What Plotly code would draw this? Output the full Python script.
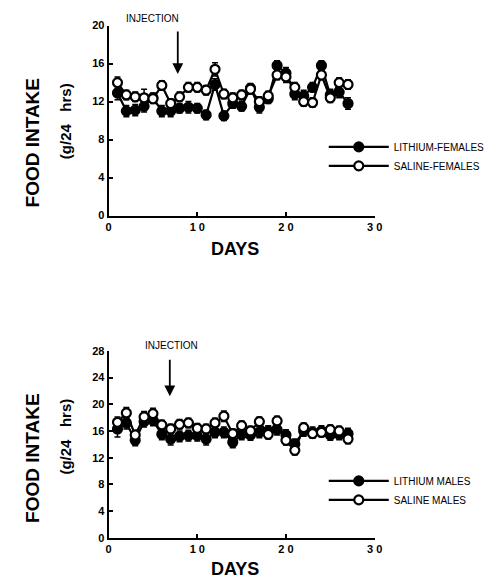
import plotly.graph_objects as go

days = list(range(1, 28))

# Top panel: females (g/24 hrs)
lithium_females = [12.9, 11.0, 11.1, 11.5, 12.4, 11.0, 11.0, 11.3, 11.4, 11.3, 10.6, 13.8, 10.5, 11.8,
                   11.5, 13.4, 11.4, 12.3, 15.8, 15.0, 12.8, 12.6, 13.5, 15.8, 12.7, 13.0, 11.8]
lithium_females_err = [0.7, 0.6, 0.6, 0.6, 0.5, 0.6, 0.6, 0.5, 0.6, 0.5, 0.5, 0.6, 0.5, 0.5,
                       0.5, 0.5, 0.6, 0.5, 0.5, 0.6, 0.6, 0.6, 0.5, 0.5, 0.6, 0.6, 0.6]
saline_females = [14.0, 12.7, 12.5, 12.4, 12.3, 13.7, 11.8, 12.5, 13.5, 13.5, 13.2, 15.4, 12.8, 12.4,
                  12.7, 13.3, 12.0, 12.6, 14.8, 14.6, 13.5, 12.0, 11.9, 14.8, 12.4, 14.0, 13.8]
saline_females_err = [0.6, 0.5, 0.5, 0.9, 0.5, 0.5, 0.5, 0.5, 0.5, 0.5, 0.5, 0.7, 0.5, 0.5,
                      0.5, 0.5, 0.5, 0.5, 0.5, 0.6, 0.5, 0.5, 0.5, 0.5, 0.5, 0.5, 0.5]

# Bottom panel: males (g/24 hrs)
lithium_males = [16.3, 17.2, 14.6, 17.4, 17.6, 15.5, 14.8, 15.2, 15.3, 15.3, 14.8, 15.8, 15.8, 14.3,
                 15.5, 15.4, 15.8, 16.0, 16.2, 15.4, 14.0, 16.0, 15.8, 16.0, 15.4, 15.5, 15.6]
lithium_males_err = [1.2, 0.9, 0.8, 0.8, 0.8, 0.8, 0.9, 0.8, 0.8, 0.8, 0.9, 0.8, 0.8, 0.8,
                     0.8, 0.8, 0.8, 0.8, 0.8, 0.8, 0.8, 0.8, 0.8, 0.8, 0.8, 0.8, 0.8]
saline_males = [17.3, 18.7, 15.4, 18.1, 18.6, 16.9, 16.3, 17.0, 17.2, 16.4, 16.3, 17.2, 18.2, 15.6,
                16.8, 16.0, 17.4, 15.5, 17.5, 14.6, 13.1, 16.5, 15.6, 15.8, 16.2, 16.0, 14.8]
saline_males_err = [0.8, 0.8, 0.7, 0.8, 0.8, 0.7, 0.7, 0.7, 0.7, 0.7, 0.7, 0.7, 0.8, 0.7,
                    0.7, 0.7, 0.7, 0.7, 0.7, 0.7, 0.7, 0.7, 0.7, 0.7, 0.7, 0.7, 0.7]

x_ticks = [0, 10, 20, 30]
x_ticktext = ["0", "1 0", "2 0", "3 0"]
top_yticks = [0, 4, 8, 12, 16, 20]
bottom_yticks = [0, 4, 8, 12, 16, 20, 24, 28]

FONT = "Liberation Sans, Arial, Helvetica, sans-serif"

fig = go.Figure()


def add_series(y, err, name, filled, xa, ya, legend):
    fig.add_trace(go.Scatter(
        x=days, y=y, name=name, xaxis=xa, yaxis=ya, legend=legend,
        mode="lines+markers",
        line=dict(color="black", width=2.2),
        marker=dict(symbol="circle", size=9,
                    color="black" if filled else "white",
                    line=dict(color="black", width=2.2)),
        error_y=dict(type="data", array=err, visible=True, color="black",
                     thickness=1.5, width=3),
    ))


add_series(lithium_females, lithium_females_err, "LITHIUM-FEMALES", True, "x", "y", "legend")
add_series(saline_females, saline_females_err, "SALINE-FEMALES", False, "x", "y", "legend")
add_series(lithium_males, lithium_males_err, "LITHIUM MALES", True, "x2", "y2", "legend2")
add_series(saline_males, saline_males_err, "SALINE MALES", False, "x2", "y2", "legend2")

W, H = 499, 586
xdom = [108 / W, 380 / W]
top_dom = [(H - 214) / H, (H - 20) / H]
bot_dom = [(H - 543) / H, (H - 352) / H]

axis_common = dict(showgrid=False, zeroline=False, showline=True, linecolor="black",
                   linewidth=2, ticks="inside", tickcolor="black", ticklen=4, tickwidth=1.5,
                   tickfont=dict(family=FONT, size=11, color="black", weight="bold"))

fig.update_layout(
    width=W, height=H,
    margin=dict(l=0, r=0, t=0, b=0),
    paper_bgcolor="white", plot_bgcolor="white",
    font=dict(family=FONT, color="black"),
    xaxis=dict(domain=xdom, anchor="y", range=[0, 30], tickvals=x_ticks, ticktext=x_ticktext, **axis_common),
    yaxis=dict(domain=top_dom, anchor="x", range=[0, 20], tickvals=top_yticks, **axis_common),
    xaxis2=dict(domain=xdom, anchor="y2", range=[0, 30], tickvals=x_ticks, ticktext=x_ticktext, **axis_common),
    yaxis2=dict(domain=bot_dom, anchor="x2", range=[0, 28], tickvals=bottom_yticks, **axis_common),
    legend=dict(x=328 / W, y=(H - 129) / H, xanchor="left", yanchor="top",
                font=dict(family=FONT, size=10, color="black"), itemwidth=60,
                bgcolor="rgba(0,0,0,0)", tracegroupgap=0),
    legend2=dict(x=328 / W, y=(H - 470) / H, xanchor="left", yanchor="top",
                 font=dict(family=FONT, size=10, color="black"), itemwidth=60,
                 bgcolor="rgba(0,0,0,0)", tracegroupgap=0),
    showlegend=True,
)

annotations = [
    # injection markers
    dict(x=7.8, y=14.9, xref="x", yref="y", ax=0, ay=-44, text="", showarrow=True,
         arrowhead=2, arrowsize=1.2, arrowwidth=1.8, arrowcolor="black"),
    dict(x=153 / W, y=(H - 13) / H, xref="paper", yref="paper", text="INJECTION",
         showarrow=False, font=dict(family=FONT, size=10, color="black")),
    dict(x=6.9, y=21.2, xref="x2", yref="y2", ax=0, ay=-38, text="", showarrow=True,
         arrowhead=2, arrowsize=1.2, arrowwidth=1.8, arrowcolor="black"),
    dict(x=172 / W, y=(H - 347) / H, xref="paper", yref="paper", text="INJECTION",
         showarrow=False, font=dict(family=FONT, size=10, color="black")),
    # axis titles
    dict(x=237 / W, y=(H - 248) / H, xref="paper", yref="paper", text="<b>DAYS</b>",
         showarrow=False, font=dict(family=FONT, size=18, color="black")),
    dict(x=237 / W, y=(H - 575) / H, xref="paper", yref="paper", text="<b>DAYS</b>",
         showarrow=False, font=dict(family=FONT, size=18, color="black")),
    dict(x=30 / W, y=(H - 140) / H, xref="paper", yref="paper", text="<b>FOOD INTAKE</b>",
         textangle=-90, showarrow=False, font=dict(family=FONT, size=19, color="black")),
    dict(x=64 / W, y=(H - 118) / H, xref="paper", yref="paper", text="<b>(g/24   hrs)</b>",
         textangle=-90, showarrow=False, font=dict(family=FONT, size=15, color="black")),
    dict(x=30 / W, y=(H - 462) / H, xref="paper", yref="paper", text="<b>FOOD INTAKE</b>",
         textangle=-90, showarrow=False, font=dict(family=FONT, size=19, color="black")),
    dict(x=64 / W, y=(H - 440) / H, xref="paper", yref="paper", text="<b>(g/24   hrs)</b>",
         textangle=-90, showarrow=False, font=dict(family=FONT, size=15, color="black")),
]
for a in annotations:
    a["xanchor"] = "center"
    a["yanchor"] = "middle"
fig.update_layout(annotations=annotations)

fig.write_html("out.html", config={"displayModeBar": False},
               post_script="document.body.style.margin='0';")
